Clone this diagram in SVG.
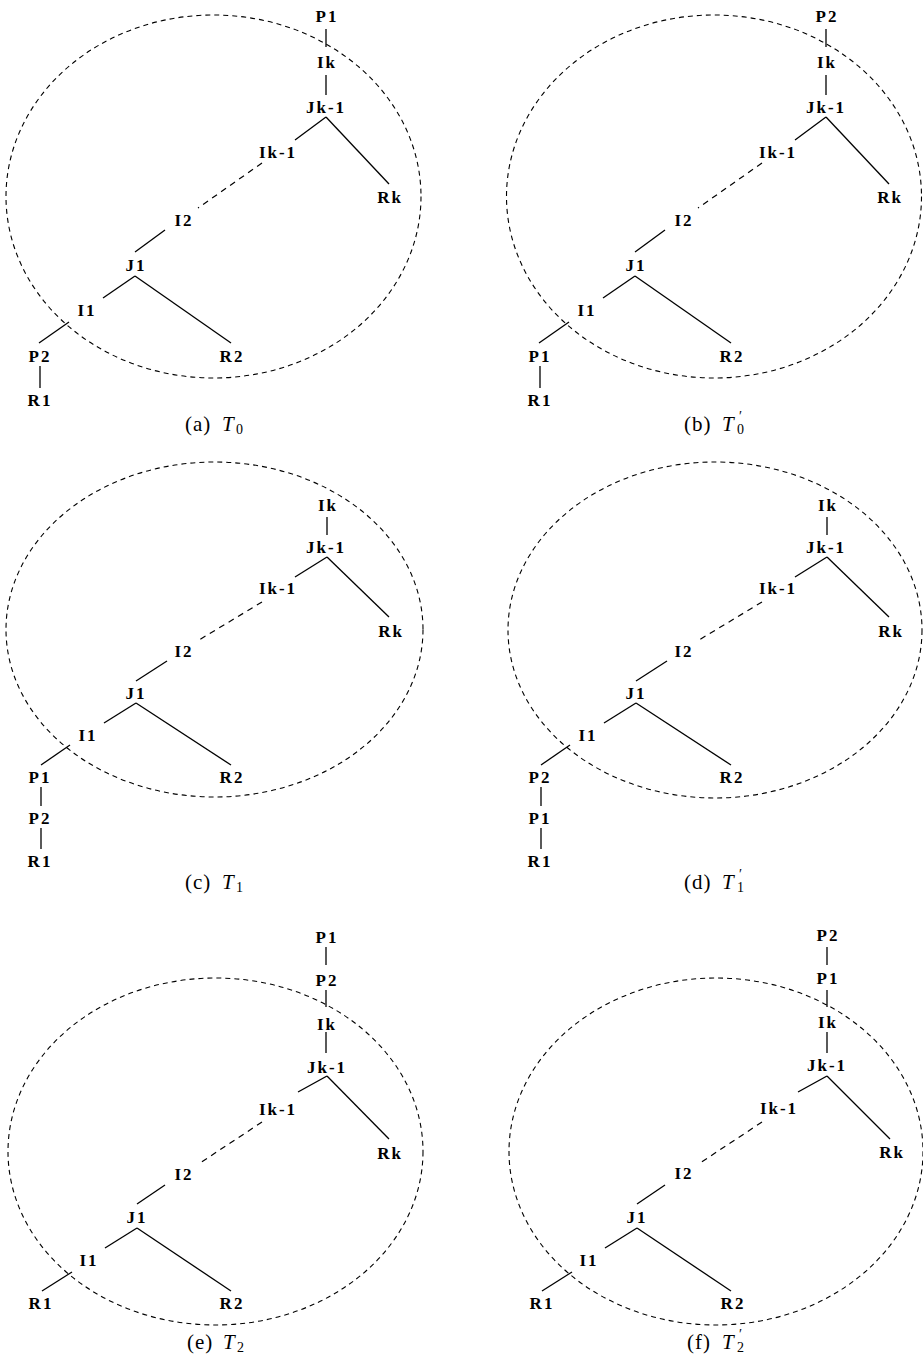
<svg xmlns="http://www.w3.org/2000/svg" width="923" height="1358" viewBox="0 0 923 1358">
<style>
.n{font-family:"Liberation Serif",serif;font-weight:bold;font-size:17px;letter-spacing:2px;text-anchor:middle;fill:#000}
.e{stroke:#000;stroke-width:1.3;fill:none}
.d{stroke:#000;stroke-width:1.2;stroke-dasharray:6 5;fill:none}
.el{stroke:#000;stroke-width:1.1;stroke-dasharray:5 4;fill:none}
.cap{font-family:"Liberation Serif",serif;font-size:21px;fill:#000}
.lbl{letter-spacing:1px}
.it{font-style:italic;letter-spacing:0}
.sub{font-size:14px;font-style:normal;letter-spacing:0}
</style>
<rect width="923" height="1358" fill="#fff"/>

<!-- Panel (a) -->
<g id="panel-a">
<ellipse class="el" cx="213.5" cy="196.5" rx="207.5" ry="181.5"/>
<g id="a-connectors">
<line class="e" x1="326" y1="29" x2="326" y2="47"/>
<line class="e" x1="326" y1="75" x2="326" y2="95"/>
<line class="e" x1="326" y1="117" x2="295" y2="140"/>
<line class="e" x1="326" y1="117" x2="389" y2="184"/>
<line class="d" x1="262" y1="163" x2="198" y2="208"/>
<line class="e" x1="165" y1="230" x2="135" y2="252"/>
<line class="e" x1="135" y1="276" x2="103" y2="298"/>
<line class="e" x1="135" y1="276" x2="231" y2="343"/>
<line class="e" x1="69" y1="322" x2="39" y2="343"/>
<line class="e" x1="40" y1="366" x2="40" y2="388"/>
</g>
<g id="a-P1"><text class="n" x="327" y="22">P1</text></g>
<g id="a-Ik"><text class="n" x="327" y="68">Ik</text></g>
<g id="a-Jk-1"><text class="n" x="326" y="113">Jk-1</text></g>
<g id="a-Ik-1"><text class="n" x="278" y="158">Ik-1</text></g>
<g id="a-Rk"><text class="n" x="390" y="203">Rk</text></g>
<g id="a-I2"><text class="n" x="184" y="226">I2</text></g>
<g id="a-J1"><text class="n" x="136" y="271">J1</text></g>
<g id="a-I1"><text class="n" x="87" y="316">I1</text></g>
<g id="a-P2"><text class="n" x="40" y="362">P2</text></g>
<g id="a-R2"><text class="n" x="232" y="362">R2</text></g>
<g id="a-R1"><text class="n" x="40" y="406">R1</text></g>
<text class="cap" y="431"><tspan class="lbl" x="185">(a)</tspan><tspan class="it" x="222">T</tspan><tspan class="sub" x="236" y="434">0</tspan></text>
</g>

<!-- Panel (b) -->
<g id="panel-b">
<ellipse class="el" cx="714" cy="196.5" rx="207.5" ry="181.5"/>
<g id="b-connectors">
<line class="e" x1="826" y1="29" x2="826" y2="47"/>
<line class="e" x1="826" y1="75" x2="826" y2="95"/>
<line class="e" x1="826" y1="117" x2="795" y2="140"/>
<line class="e" x1="826" y1="117" x2="889" y2="184"/>
<line class="d" x1="762" y1="163" x2="698" y2="208"/>
<line class="e" x1="665" y1="230" x2="635" y2="252"/>
<line class="e" x1="635" y1="276" x2="603" y2="298"/>
<line class="e" x1="635" y1="276" x2="731" y2="343"/>
<line class="e" x1="569" y1="322" x2="539" y2="343"/>
<line class="e" x1="540" y1="366" x2="540" y2="388"/>
</g>
<g id="b-P2"><text class="n" x="827" y="22">P2</text></g>
<g id="b-Ik"><text class="n" x="827" y="68">Ik</text></g>
<g id="b-Jk-1"><text class="n" x="826" y="113">Jk-1</text></g>
<g id="b-Ik-1"><text class="n" x="778" y="158">Ik-1</text></g>
<g id="b-Rk"><text class="n" x="890" y="203">Rk</text></g>
<g id="b-I2"><text class="n" x="684" y="226">I2</text></g>
<g id="b-J1"><text class="n" x="636" y="271">J1</text></g>
<g id="b-I1"><text class="n" x="587" y="316">I1</text></g>
<g id="b-P1"><text class="n" x="540" y="362">P1</text></g>
<g id="b-R2"><text class="n" x="732" y="362">R2</text></g>
<g id="b-R1"><text class="n" x="540" y="406">R1</text></g>
<text class="cap" y="431"><tspan class="lbl" x="684">(b)</tspan><tspan class="it" x="722">T</tspan><tspan class="sub" x="739" y="421">′</tspan><tspan class="sub" x="737" y="434">0</tspan></text>
</g>

<!-- Panel (c) -->
<g id="panel-c">
<ellipse class="el" cx="214.5" cy="629.5" rx="208.5" ry="167.5"/>
<g id="c-connectors">
<line class="e" x1="327" y1="517" x2="327" y2="535"/>
<line class="e" x1="327" y1="557" x2="295" y2="577"/>
<line class="e" x1="327" y1="557" x2="389" y2="617"/>
<line class="d" x1="262" y1="602" x2="199" y2="640"/>
<line class="e" x1="167" y1="661" x2="136" y2="681"/>
<line class="e" x1="136" y1="703" x2="104" y2="723"/>
<line class="e" x1="136" y1="703" x2="231" y2="765"/>
<line class="e" x1="70" y1="745" x2="41" y2="765"/>
<line class="e" x1="41" y1="787" x2="41" y2="806"/>
<line class="e" x1="41" y1="828" x2="41" y2="849"/>
</g>
<g id="c-Ik"><text class="n" x="328" y="511">Ik</text></g>
<g id="c-Jk-1"><text class="n" x="326" y="553">Jk-1</text></g>
<g id="c-Ik-1"><text class="n" x="278" y="594">Ik-1</text></g>
<g id="c-Rk"><text class="n" x="391" y="637">Rk</text></g>
<g id="c-I2"><text class="n" x="184" y="657">I2</text></g>
<g id="c-J1"><text class="n" x="136" y="699">J1</text></g>
<g id="c-I1"><text class="n" x="88" y="741">I1</text></g>
<g id="c-P1"><text class="n" x="40" y="783">P1</text></g>
<g id="c-R2"><text class="n" x="232" y="783">R2</text></g>
<g id="c-P2"><text class="n" x="40" y="824">P2</text></g>
<g id="c-R1"><text class="n" x="40" y="867">R1</text></g>
<text class="cap" y="889"><tspan class="lbl" x="185">(c)</tspan><tspan class="it" x="222">T</tspan><tspan class="sub" x="236" y="892">1</tspan></text>
</g>

<!-- Panel (d) -->
<g id="panel-d">
<ellipse class="el" cx="715" cy="630" rx="207" ry="168"/>
<g id="d-connectors">
<line class="e" x1="827" y1="517" x2="827" y2="535"/>
<line class="e" x1="827" y1="557" x2="795" y2="577"/>
<line class="e" x1="827" y1="557" x2="889" y2="617"/>
<line class="d" x1="762" y1="602" x2="699" y2="640"/>
<line class="e" x1="667" y1="661" x2="636" y2="681"/>
<line class="e" x1="636" y1="703" x2="604" y2="723"/>
<line class="e" x1="636" y1="703" x2="731" y2="765"/>
<line class="e" x1="570" y1="745" x2="541" y2="765"/>
<line class="e" x1="541" y1="787" x2="541" y2="806"/>
<line class="e" x1="541" y1="828" x2="541" y2="849"/>
</g>
<g id="d-Ik"><text class="n" x="828" y="511">Ik</text></g>
<g id="d-Jk-1"><text class="n" x="826" y="553">Jk-1</text></g>
<g id="d-Ik-1"><text class="n" x="778" y="594">Ik-1</text></g>
<g id="d-Rk"><text class="n" x="891" y="637">Rk</text></g>
<g id="d-I2"><text class="n" x="684" y="657">I2</text></g>
<g id="d-J1"><text class="n" x="636" y="699">J1</text></g>
<g id="d-I1"><text class="n" x="588" y="741">I1</text></g>
<g id="d-P2"><text class="n" x="540" y="783">P2</text></g>
<g id="d-R2"><text class="n" x="732" y="783">R2</text></g>
<g id="d-P1"><text class="n" x="540" y="824">P1</text></g>
<g id="d-R1"><text class="n" x="540" y="867">R1</text></g>
<text class="cap" y="889"><tspan class="lbl" x="684">(d)</tspan><tspan class="it" x="722">T</tspan><tspan class="sub" x="739" y="879">′</tspan><tspan class="sub" x="737" y="892">1</tspan></text>
</g>

<!-- Panel (e) -->
<g id="panel-e">
<ellipse class="el" cx="215.5" cy="1151.5" rx="207.5" ry="173.5"/>
<g id="e-connectors">
<line class="e" x1="326" y1="947" x2="326" y2="965"/>
<line class="e" x1="326" y1="990" x2="326" y2="1007"/>
<line class="e" x1="326" y1="1032" x2="326" y2="1053"/>
<line class="e" x1="327" y1="1076" x2="298" y2="1092"/>
<line class="e" x1="327" y1="1076" x2="389" y2="1139"/>
<line class="d" x1="262" y1="1122" x2="200" y2="1163"/>
<line class="e" x1="165" y1="1185" x2="137" y2="1204"/>
<line class="e" x1="137" y1="1228" x2="105" y2="1248"/>
<line class="e" x1="137" y1="1228" x2="231" y2="1291"/>
<line class="e" x1="72" y1="1272" x2="42" y2="1291"/>
</g>
<g id="e-P1"><text class="n" x="327" y="943">P1</text></g>
<g id="e-P2"><text class="n" x="327" y="986">P2</text></g>
<g id="e-Ik"><text class="n" x="327" y="1030">Ik</text></g>
<g id="e-Jk-1"><text class="n" x="327" y="1073">Jk-1</text></g>
<g id="e-Ik-1"><text class="n" x="278" y="1115">Ik-1</text></g>
<g id="e-Rk"><text class="n" x="390" y="1159">Rk</text></g>
<g id="e-I2"><text class="n" x="184" y="1180">I2</text></g>
<g id="e-J1"><text class="n" x="137" y="1223">J1</text></g>
<g id="e-I1"><text class="n" x="89" y="1266">I1</text></g>
<g id="e-R1"><text class="n" x="41" y="1309">R1</text></g>
<g id="e-R2"><text class="n" x="232" y="1309">R2</text></g>
<text class="cap" y="1349"><tspan class="lbl" x="187">(e)</tspan><tspan class="it" x="223">T</tspan><tspan class="sub" x="237" y="1352">2</tspan></text>
</g>

<!-- Panel (f) -->
<g id="panel-f">
<ellipse class="el" cx="716" cy="1151.5" rx="207" ry="173.5"/>
<g id="f-connectors">
<line class="e" x1="827" y1="947" x2="827" y2="965"/>
<line class="e" x1="827" y1="990" x2="827" y2="1007"/>
<line class="e" x1="827" y1="1032" x2="827" y2="1053"/>
<line class="e" x1="827" y1="1076" x2="798" y2="1092"/>
<line class="e" x1="827" y1="1076" x2="890" y2="1139"/>
<line class="d" x1="762" y1="1122" x2="700" y2="1163"/>
<line class="e" x1="665" y1="1185" x2="637" y2="1204"/>
<line class="e" x1="637" y1="1228" x2="605" y2="1248"/>
<line class="e" x1="637" y1="1228" x2="731" y2="1291"/>
<line class="e" x1="572" y1="1272" x2="542" y2="1291"/>
</g>
<g id="f-P2"><text class="n" x="828" y="941">P2</text></g>
<g id="f-P1"><text class="n" x="828" y="984">P1</text></g>
<g id="f-Ik"><text class="n" x="828" y="1028">Ik</text></g>
<g id="f-Jk-1"><text class="n" x="827" y="1071">Jk-1</text></g>
<g id="f-Ik-1"><text class="n" x="779" y="1114">Ik-1</text></g>
<g id="f-Rk"><text class="n" x="892" y="1158">Rk</text></g>
<g id="f-I2"><text class="n" x="684" y="1179">I2</text></g>
<g id="f-J1"><text class="n" x="637" y="1223">J1</text></g>
<g id="f-I1"><text class="n" x="589" y="1266">I1</text></g>
<g id="f-R1"><text class="n" x="542" y="1309">R1</text></g>
<g id="f-R2"><text class="n" x="733" y="1309">R2</text></g>
<text class="cap" y="1349"><tspan class="lbl" x="687">(f)</tspan><tspan class="it" x="722">T</tspan><tspan class="sub" x="739" y="1339">′</tspan><tspan class="sub" x="737" y="1352">2</tspan></text>
</g>
</svg>
